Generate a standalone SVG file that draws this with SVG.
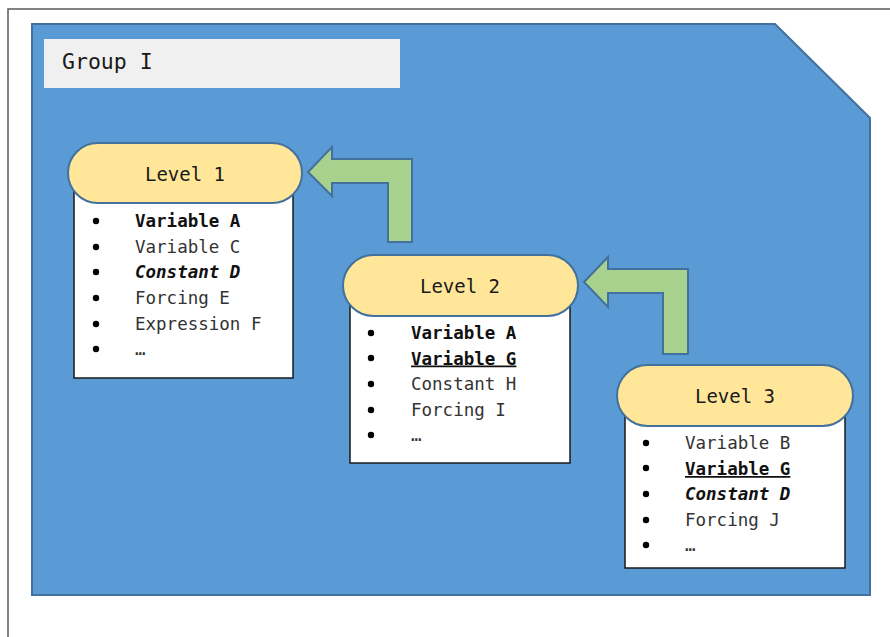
<svg xmlns="http://www.w3.org/2000/svg" width="890" height="637" viewBox="0 0 890 637">
<defs>
<style>
.frame{stroke:#595959;stroke-width:1.5;fill:none}
.group{fill:#5b9bd5;stroke:#41719c;stroke-width:2}
.glabel{fill:#f0f0f0}
.pill{fill:#ffe699;stroke:#41719c;stroke-width:2}
.box{fill:#ffffff;stroke:#1a1a1a;stroke-width:1.5}
.arrow{fill:#a9d18e;stroke:#41719c;stroke-width:2}
text{font-family:"DejaVu Sans Mono","Liberation Mono",monospace}
.gt{font-size:21.5px;fill:#1a1a1a}
.lt{font-size:19px;fill:#1a1a1a;text-anchor:middle}
.it{font-size:17.5px;fill:#333333}
.b{font-weight:bold;fill:#111}
.bi{font-weight:bold;font-style:italic;fill:#111}
.bu{font-weight:bold;fill:#111;text-decoration:underline}
.bul{fill:#000}
</style>
</defs>
<path class="frame" d="M8,637 V9 H890"/>
<polygon class="group" points="32,24 775,24 870,118 870,595 32,595"/>
<g id="group-label">
<rect class="glabel" x="44" y="39" width="356" height="49"/>
<text class="gt" x="62" y="69">Group I</text>
</g>
<g id="connectors">
<polygon class="arrow" points="308,172 332,147 332,159 412,159 412,242 388,242 388,183 332,183 332,196"/>
<polygon class="arrow" points="584,282 608,257 608,269 688,269 688,354 663,354 663,293 608,293 608,307"/>
</g>
<g id="level1">
<rect class="box" x="74" y="180" width="219" height="198"/>
<rect class="pill" x="68" y="143" width="234" height="60" rx="30"/>
<text class="lt" x="185" y="181">Level 1</text>
<circle class="bul" cx="96" cy="221" r="3.2"/>
<circle class="bul" cx="96" cy="247" r="3.2"/>
<circle class="bul" cx="96" cy="272" r="3.2"/>
<circle class="bul" cx="96" cy="298" r="3.2"/>
<circle class="bul" cx="96" cy="324" r="3.2"/>
<circle class="bul" cx="96" cy="349" r="3.2"/>
<text class="it b" x="135" y="227">Variable A</text>
<text class="it" x="135" y="253">Variable C</text>
<text class="it bi" x="135" y="278">Constant D</text>
<text class="it" x="135" y="304">Forcing E</text>
<text class="it" x="135" y="330">Expression F</text>
<text class="it" x="135" y="355">…</text>
</g>
<g id="level2">
<rect class="box" x="350" y="292" width="220" height="171"/>
<rect class="pill" x="343" y="255" width="235" height="61" rx="30.5"/>
<text class="lt" x="460" y="293">Level 2</text>
<circle class="bul" cx="371" cy="333" r="3.2"/>
<circle class="bul" cx="371" cy="358" r="3.2"/>
<circle class="bul" cx="371" cy="384" r="3.2"/>
<circle class="bul" cx="371" cy="410" r="3.2"/>
<circle class="bul" cx="371" cy="435" r="3.2"/>
<text class="it b" x="411" y="339">Variable A</text>
<text class="it bu" x="411" y="364.5">Variable G</text>
<text class="it" x="411" y="390">Constant H</text>
<text class="it" x="411" y="416">Forcing I</text>
<text class="it" x="411" y="441">…</text>
</g>
<g id="level3">
<rect class="box" x="625" y="400" width="220" height="168"/>
<rect class="pill" x="617" y="365" width="236" height="61" rx="30.5"/>
<text class="lt" x="735" y="403">Level 3</text>
<circle class="bul" cx="646" cy="443" r="3.2"/>
<circle class="bul" cx="646" cy="468" r="3.2"/>
<circle class="bul" cx="646" cy="494" r="3.2"/>
<circle class="bul" cx="646" cy="520" r="3.2"/>
<circle class="bul" cx="646" cy="545" r="3.2"/>
<text class="it" x="685" y="449">Variable B</text>
<text class="it bu" x="685" y="475">Variable G</text>
<text class="it bi" x="685" y="500">Constant D</text>
<text class="it" x="685" y="526">Forcing J</text>
<text class="it" x="685" y="551">…</text>
</g>
</svg>
